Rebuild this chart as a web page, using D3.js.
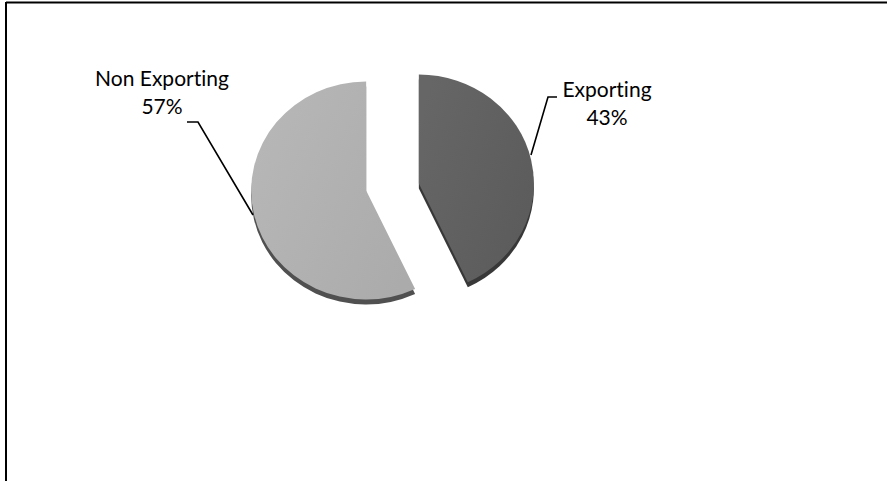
<!DOCTYPE html>
<html>
<head>
<meta charset="utf-8">
<script src="https://cdn.jsdelivr.net/npm/d3@7"></script>
<style>
  html, body { margin: 0; padding: 0; background: #ffffff; }
  svg { display: block; }
  text { font-family: Lato, "Open Sans", sans-serif; fill: #000; font-variant-ligatures: none; font-feature-settings: "liga" 0; }
</style>
</head>
<body>
<svg id="chart" width="887" height="481"></svg>
<script>
// Share of firms by export status
const categories = ["Exporting", "Non Exporting"];
const shares = [43, 57];
const valueLabels = ["43%", "57%"];

const W = 887, H = 481;
const svg = d3.select("#chart");

// Frame lines along top and left edge
svg.append("line").attr("x1", 6).attr("y1", 2.5).attr("x2", W).attr("y2", 2.5)
  .attr("stroke", "#000").attr("stroke-width", 2);
svg.append("line").attr("x1", 6).attr("y1", 2).attr("x2", 6).attr("y2", H)
  .attr("stroke", "#000").attr("stroke-width", 2);

// Pie layout: slices start at 12 o'clock, clockwise, in data order
const cx = 392.5, cy = 187;
const ry = 109, rx = 115;       // slightly flattened face
const explodeX = 27, explodeY = 16;
const depth = 5;

const faceColors = { "Exporting": ["#666666", "#5b5b5b"], "Non Exporting": ["#b7b7b7", "#ababab"] };
const sideColors = { "Exporting": "#383838", "Non Exporting": "#505050" };

const pie = d3.pie().sort(null).value(d => d.value);
const arcs = pie(categories.map((c, i) => ({ name: c, value: shares[i], label: valueLabels[i] })));
const arc = d3.arc().innerRadius(0).outerRadius(ry);

const defs = svg.append("defs");
arcs.forEach((a, i) => {
  const g = defs.append("linearGradient").attr("id", "face" + i)
    .attr("x1", "0%").attr("y1", "20%").attr("x2", "100%").attr("y2", "80%");
  g.append("stop").attr("offset", "0%").attr("stop-color", faceColors[a.data.name][0]);
  g.append("stop").attr("offset", "100%").attr("stop-color", faceColors[a.data.name][1]);
});

function sliceCenter(a) {
  const mid = (a.startAngle + a.endAngle) / 2;
  return [cx + Math.sin(mid) * explodeX, cy - Math.cos(mid) * explodeY];
}

// Side walls (drawn first, shifted down)
arcs.forEach(a => {
  const [x, y] = sliceCenter(a);
  svg.append("path")
    .attr("d", arc(a))
    .attr("transform", `translate(${x},${y + depth}) scale(${rx / ry},1)`)
    .attr("fill", sideColors[a.data.name]);
});

// Top faces
arcs.forEach((a, i) => {
  const [x, y] = sliceCenter(a);
  svg.append("path")
    .attr("d", arc(a))
    .attr("transform", `translate(${x},${y}) scale(${rx / ry},1)`)
    .attr("fill", `url(#face${i})`);
});

// Labels with leader lines
const fontSize = 21, lineGap = 28;
const labelSpec = {
  "Exporting":     { tx: 607, ty: 97, leader: [[557, 97], [548, 97], [531, 155]] },
  "Non Exporting": { tx: 162, ty: 86, leader: [[187, 122], [198, 122], [253, 215]] }
};

arcs.forEach(a => {
  const s = labelSpec[a.data.name];
  svg.append("path")
    .attr("d", d3.line()(s.leader))
    .attr("fill", "none").attr("stroke", "#000").attr("stroke-width", 1.6);
  const t = svg.append("text").attr("text-anchor", "middle")
    .attr("font-size", fontSize);
  t.append("tspan").attr("x", s.tx).attr("y", s.ty).text(a.data.name);
  t.append("tspan").attr("x", s.tx).attr("y", s.ty + lineGap).text(a.data.label);
});
</script>
</body>
</html>
